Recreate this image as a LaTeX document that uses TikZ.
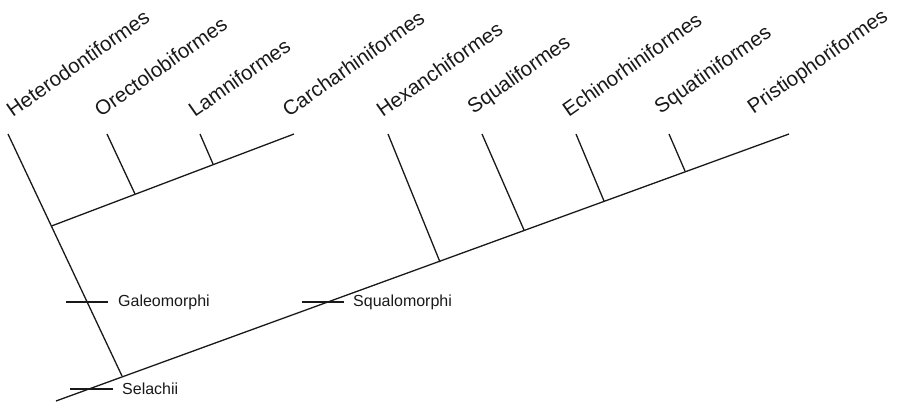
\documentclass[tikz,border=0pt]{standalone}
\usepackage{fontspec}
\setmainfont{Liberation Sans}
\begin{document}
\begin{tikzpicture}[x=1pt,y=-1pt,
  branch/.style={line width=1.3pt,draw=black!90},
  bar/.style={line width=2.8pt,draw=black!90},
  taxon/.style={anchor=south west,inner sep=0pt,rotate=35,font=\fontsize{20.5}{21}\selectfont,text=black!90},
  clade/.style={anchor=west,inner sep=0pt,font=\fontsize{16}{17}\selectfont,text=black!90}]
\useasboundingbox (0,0) rectangle (899,402);
% main (Selachii) axis
\coordinate (root) at (56,401);
\coordinate (sel) at (122,376);
\coordinate (hexj) at (440,262);
\coordinate (squalj) at (524,230);
\coordinate (echj) at (604,201);
\coordinate (squatj) at (685,171);
\coordinate (prist) at (789,134);
% galeomorph axis
\coordinate (galj) at (51.5,226);
\coordinate (orectj) at (135,194);
\coordinate (lamnj) at (213,164);
\coordinate (carch) at (294,134);
% tips
\coordinate (hetero) at (8,134);
\coordinate (orect) at (107,134);
\coordinate (lamn) at (200,134);
\coordinate (hex) at (388,134);
\coordinate (squal) at (482,134);
\coordinate (ech) at (576,134);
\coordinate (squat) at (669,134);
% branches
\draw[branch] (root) -- (prist);
\draw[branch] (hetero) -- (sel);
\draw[branch] (galj) -- (carch);
\draw[branch] (orect) -- (orectj);
\draw[branch] (lamn) -- (lamnj);
\draw[branch] (hex) -- (hexj);
\draw[branch] (squal) -- (squalj);
\draw[branch] (ech) -- (echj);
\draw[branch] (squat) -- (squatj);
% taxon labels
\node[taxon] (tHet) at (13,118) {Heterodontiformes};
\node[taxon] (tOre) at (101,118) {Orectolobiformes};
\node[taxon] (tLam) at (195,118) {Lamniformes};
\node[taxon] (tCar) at (289,118) {Carcharhiniformes};
\node[taxon] (tHex) at (383,118) {Hexanchiformes};
\node[taxon] (tSqu) at (476,118) {Squaliformes};
\node[taxon] (tEch) at (569,118) {Echinorhiniformes};
\node[taxon] (tSqt) at (663,118) {Squatiniformes};
\node[taxon] (tPri) at (756,118) {Pristiophoriformes};
% clade bars
\coordinate (g1) at (66,302); \coordinate (g2) at (108,302);
\coordinate (q1) at (302,302); \coordinate (q2) at (344,302);
\coordinate (s1) at (70,389); \coordinate (s2) at (113,389);
\draw[bar] (g1) -- (g2);
\draw[bar] (q1) -- (q2);
\draw[bar] (s1) -- (s2);
\node[clade] (lGal) at (118,302) {Galeomorphi};
\node[clade] (lSqu) at (353,302) {Squalomorphi};
\node[clade] (lSel) at (122,389) {Selachii};
\end{tikzpicture}
\end{document}
